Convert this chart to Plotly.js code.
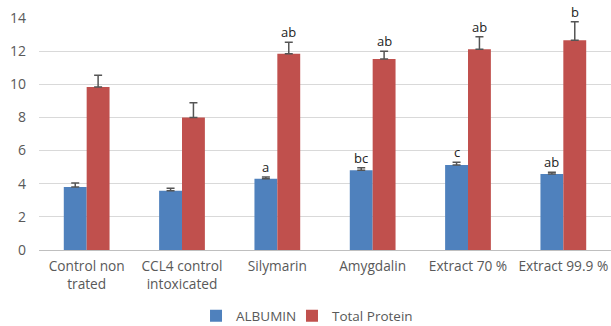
<!DOCTYPE html>
<html><head><meta charset="utf-8">
<script src="https://cdn.plot.ly/plotly-3.0.1.min.js"></script>
<style>html,body{margin:0;padding:0;background:#fff}#c{width:611px;height:326px}</style>
</head><body><div id="c"></div>
<script>
const categories = ["Control non<br>trated", "CCL4 control<br>intoxicated", "Silymarin", "Amygdalin", "Extract 70 %", "Extract 99.9 %"];
const albumin = [3.8, 3.58, 4.3, 4.81, 5.13, 4.59];
const albuminErr = [0.24, 0.14, 0.1, 0.16, 0.16, 0.1];
const totalProtein = [9.84, 7.99, 11.85, 11.53, 12.11, 12.65];
const totalProteinErr = [0.7, 0.9, 0.68, 0.47, 0.76, 1.13];
const albuminLabels = ["", "", "a", "bc", "c", "ab"];
const proteinLabels = ["", "", "ab", "ab", "ab", "b"];
const yTicks = [0, 2, 4, 6, 8, 10, 12, 14];

const zeros = categories.map(() => 0);
const traces = [
  {type: "bar", name: "ALBUMIN", x: categories, y: albumin, legend: "legend",
   marker: {color: "#4F81BD"},
   error_y: {type: "data", symmetric: false, array: albuminErr, arrayminus: zeros, color: "#555", thickness: 1.5, width: 4}},
  {type: "bar", name: "Total Protein", x: categories, y: totalProtein, legend: "legend2",
   marker: {color: "#C0504D"},
   error_y: {type: "data", symmetric: false, array: totalProteinErr, arrayminus: zeros, color: "#555", thickness: 1.5, width: 4}}
];

const annotations = [];
categories.forEach((c, i) => {
  if (albuminLabels[i]) annotations.push({x: c, y: albumin[i] + albuminErr[i], text: albuminLabels[i], xshift: -11.5, yshift: -1, yanchor: "bottom", showarrow: false, font: {family: "Open Sans, sans-serif", size: 13, color: "#222"}});
  if (proteinLabels[i]) annotations.push({x: c, y: totalProtein[i] + totalProteinErr[i], text: proteinLabels[i], xshift: 11.5, yshift: -1, yanchor: "bottom", showarrow: false, font: {family: "Open Sans, sans-serif", size: 13, color: "#222"}});
});

const legendBase = {orientation: "h", xref: "paper", xanchor: "left", yref: "container", y: 0.031, yanchor: "middle", bgcolor: "rgba(0,0,0,0)", font: {size: 13.5, color: "#595959"}, itemwidth: 30};

const layout = {
  width: 611, height: 326,
  margin: {l: 39, r: 0, t: 18, b: 76},
  paper_bgcolor: "#fff", plot_bgcolor: "#fff",
  barmode: "group", bargap: 0.52, bargroupgap: 0,
  font: {family: "Open Sans, sans-serif", size: 14, color: "#595959"},
  xaxis: {type: "category", showgrid: false, showline: false, ticks: "", ticklabelstandoff: 6, tickfont: {size: 13.7, color: "#595959"}, automargin: false},
  yaxis: {range: [0, 14], tickvals: yTicks, showgrid: true, gridcolor: "#D9D9D9", gridwidth: 1, zeroline: true, zerolinecolor: "#BFBFBF", zerolinewidth: 1, ticks: "", ticklen: 0, ticklabelstandoff: 12, tickfont: {size: 14, color: "#595959"}, automargin: false},
  showlegend: true,
  legend: Object.assign({}, legendBase, {x: 0.2745}),
  legend2: Object.assign({}, legendBase, {x: 0.4423}),
  annotations: annotations
};
Plotly.newPlot("c", traces, layout, {displayModeBar: false, staticPlot: true});
</script></body></html>
